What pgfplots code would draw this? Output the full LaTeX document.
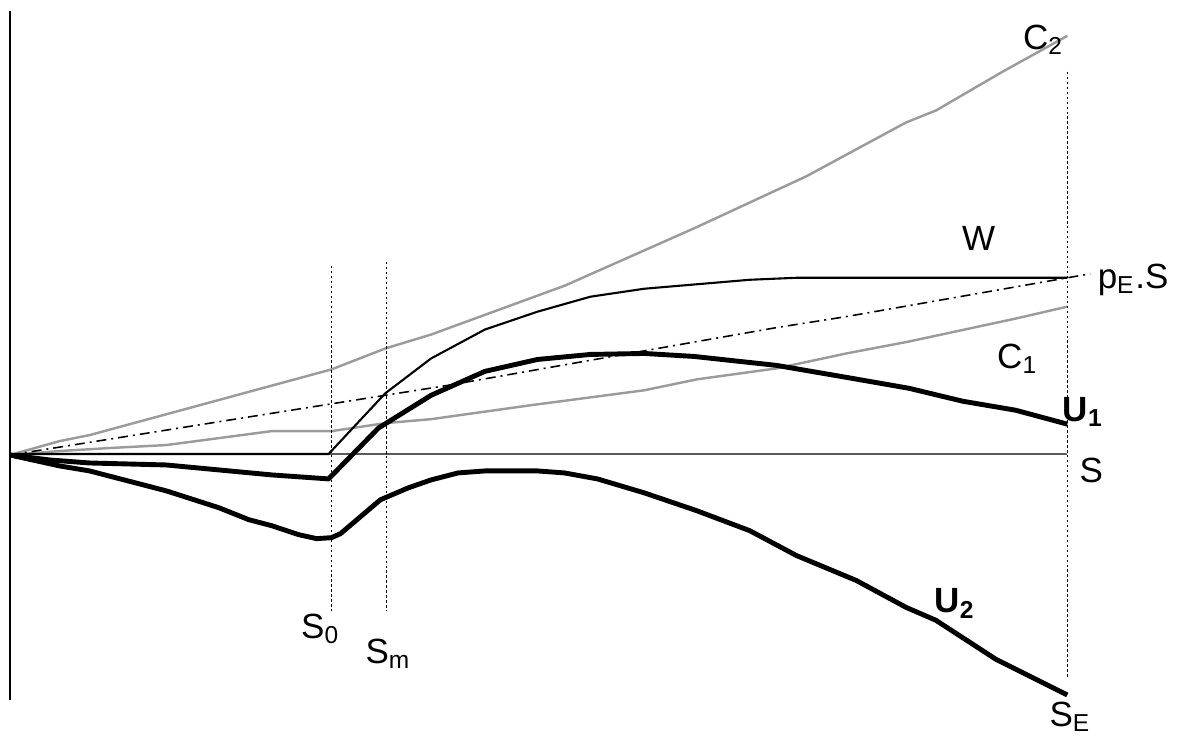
\documentclass[border=0pt]{standalone}
\usepackage{pgfplots}
\pgfplotsset{compat=1.18}
\usepackage{fontspec}
\setmainfont{Liberation Sans}
\definecolor{cgray}{RGB}{155,155,155}
\definecolor{axgray}{RGB}{90,90,90}
\begin{document}
\begin{tikzpicture}
\begin{axis}[
  width=11.8cm, height=7.38cm, scale only axis,
  xmin=0, xmax=1180, ymin=0, ymax=738, y dir=reverse,
  hide axis, clip=false,
  every node/.style={font=\fontsize{6.6}{8}\selectfont},
]
\path (rel axis cs:0,0) rectangle (rel axis cs:1,1);
% C2
\addplot[cgray, line width=0.7pt] coordinates {
(10,457)(60,443)(90,437)(333,371)(387,350)(433,336)(567,287)(673,240)(700,228)(810,177)(910,123)(940,111)(1007,72)(1072,36)};
% C1
\addplot[cgray, line width=0.7pt] coordinates {
(10,457)(60,453)(110,450)(167,447)(220,440)(273,433)(333,433)(387,425)(433,421)(533,407)(647,392)(700,381)(780,370)(850,355)(913,343)(1020,320)(1072,308)};
% pE.S
\addplot[black, line width=0.45pt, dash pattern=on 1mm off 0.5mm on 0.2mm off 0.5mm] coordinates {
(10,457)(280,414)(450,387)(780,329)(850,318)(1072,279)(1095,275)};
% S axis
\addplot[axgray, line width=0.4pt] coordinates {(10,456)(1072,456)};
% vertical axis
\addplot[black, line width=0.45pt] coordinates {(10,11)(10,703)};
% dotted verticals
\addplot[black, line width=0.3pt, dash pattern=on 0.25mm off 0.25mm] coordinates {(333,267)(333,614)};
\addplot[black, line width=0.3pt, dash pattern=on 0.25mm off 0.25mm] coordinates {(388,263)(388,614)};
\addplot[black, line width=0.3pt, dash pattern=on 0.25mm off 0.25mm] coordinates {(1072,72)(1072,680)};
% W
\addplot[black, line width=0.6pt] coordinates {
(10,456)(330,456)(387,395)(433,360)(487,331)(540,313)(593,298)(647,290)(753,281)(800,279)(1072,279)};
% U1
\addplot[black, line width=1.4pt, line join=round] coordinates {
(10,457)(50,462)(90,465)(167,467)(220,472)(273,477)(330,481)(380,430)(433,397)(487,373)(540,361)(593,356)(647,355)(697,358)(780,367)(850,379)(913,390)(967,403)(1020,412)(1072,426)};
% U2
\addplot[black, line width=1.4pt, line join=round] coordinates {
(10,457)(60,468)(90,473)(167,493)(220,510)(250,522)(273,528)(300,537)(318,541)(333,540)(342,536)(382,502)(410,490)(433,482)(460,475)(487,473)(540,473)(567,475)(600,481)(647,495)(700,513)(753,533)(800,558)(860,583)(910,610)(940,623)(1000,662)(1072,698)};
% labels
\node at (axis cs:1048,40) {C\textsubscript{2}};
\node at (axis cs:983,240) {W};
\node at (axis cs:1138,281) {p\textsubscript{E}.S};
\node at (axis cs:1022,360) {C\textsubscript{1}};
\node at (axis cs:1088,414) {\bfseries U\textsubscript{1}};
\node at (axis cs:1096,473) {S};
\node at (axis cs:959,606) {\bfseries U\textsubscript{2}};
\node at (axis cs:322,632) {S\textsubscript{0}};
\node at (axis cs:390,657) {S\textsubscript{m}};
\node at (axis cs:1075,720) {S\textsubscript{E}};
\end{axis}
\end{tikzpicture}
\end{document}
